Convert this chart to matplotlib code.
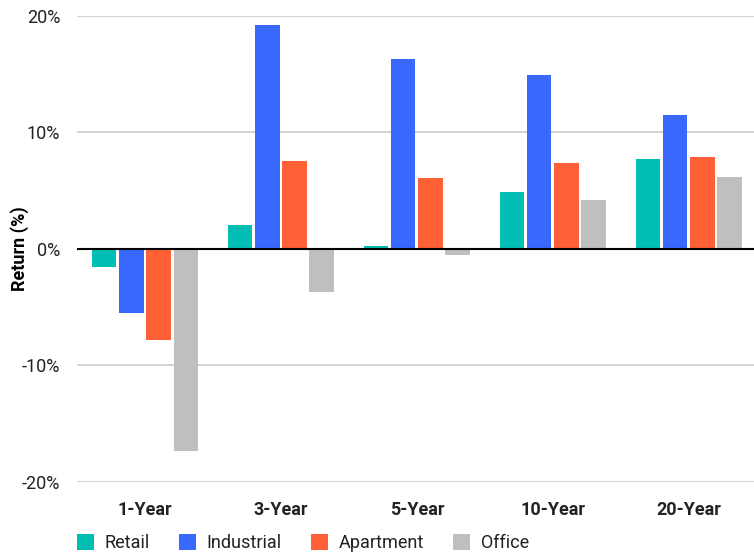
import numpy as np
import matplotlib
matplotlib.use("Agg")
import matplotlib.pyplot as plt

plt.rcParams['font.family'] = ['Liberation Sans Narrow', 'Roboto', 'DejaVu Sans']

# Data
periods = ["1-Year", "3-Year", "5-Year", "10-Year", "20-Year"]
retail = [-1.55, 2.0, 0.2, 4.85, 7.7]
industrial = [-5.5, 19.2, 16.3, 14.9, 11.5]
apartment = [-7.8, 7.5, 6.05, 7.35, 7.9]
office = [-17.4, -3.75, -0.55, 4.15, 6.15]
y_ticks = [-20, -10, 0, 10, 20]

series = {
    "Retail": (retail, "#00BFB2"),
    "Industrial": (industrial, "#3968FF"),
    "Apartment": (apartment, "#FF6036"),
    "Office": (office, "#BFBFBF"),
}

fig = plt.figure(figsize=(7.54, 5.54), dpi=100)
ax = fig.add_axes([77 / 754, 1 - 481.7 / 554, 1 - 77 / 754, (481.7 - 15.7) / 554])

x = np.arange(len(periods))
offsets = [-0.3, -0.1, 0.1, 0.3]
for (name, (vals, col)), off in zip(series.items(), offsets):
    ax.bar(x + off, vals, width=0.18, color=col, label=name, zorder=3)

ax.set_ylim(-20, 20)
ax.set_xlim(-0.5, 4.48)
ax.set_yticks(y_ticks)
ax.set_yticklabels([f"{t}%" for t in y_ticks])
ax.grid(axis="y", color="#CCCCCC", linewidth=1.2, zorder=0)
ax.axhline(0, color="black", linewidth=1.5, zorder=4)

for s in ax.spines.values():
    s.set_visible(False)
ax.tick_params(axis="both", length=0, labelsize=13, colors="#222222")
ax.tick_params(axis="y", pad=12)
ax.tick_params(axis="x", pad=14)
ax.set_xticks(x)
ax.set_xticklabels(periods, fontweight="bold")

ax.set_ylabel("Return (%)", fontsize=13, fontweight="bold")
ax.yaxis.set_label_coords(-(77 - 29) / 677, 0.5)

fig.legend(loc="center left", bbox_to_anchor=(64 / 754, 1 - 543 / 554), ncol=4,
           frameon=False, fontsize=13, handlelength=0.95, handleheight=0.95,
           handletextpad=0.6, columnspacing=1.6, labelcolor="#222222",
           borderpad=0.2)

fig.savefig("out.png", dpi=100)
